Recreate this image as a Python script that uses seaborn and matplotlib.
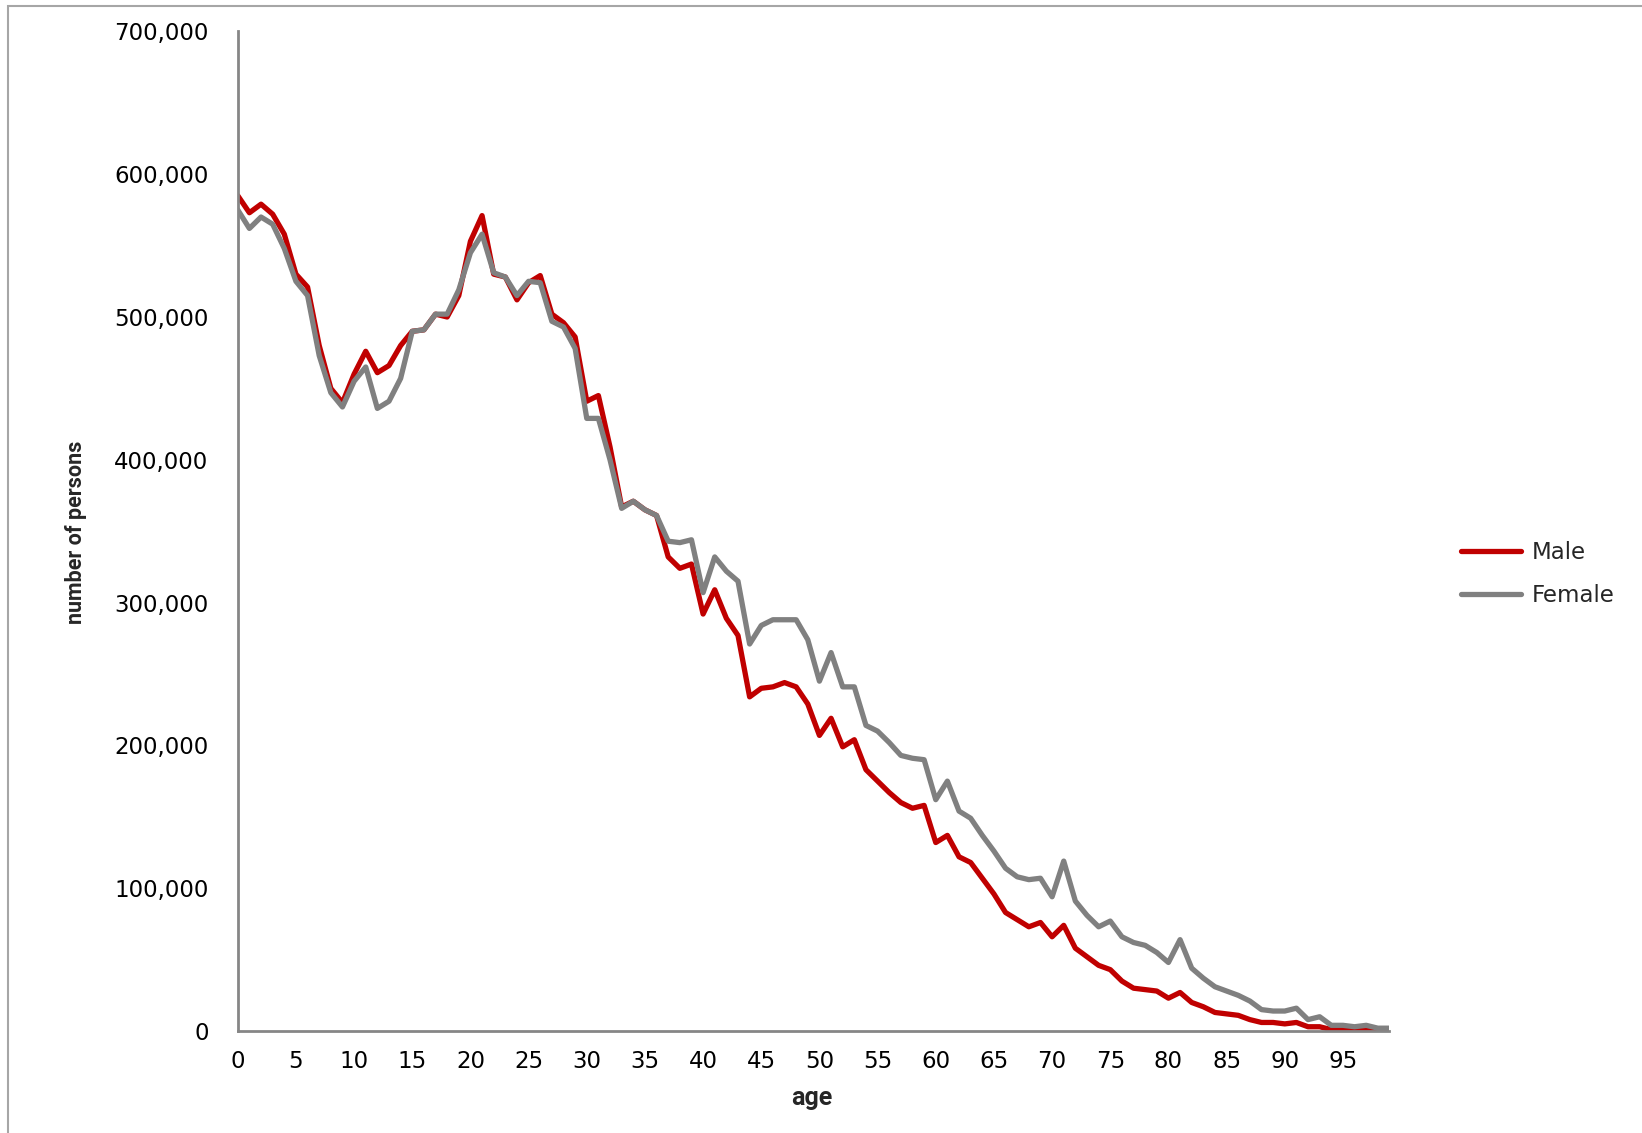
import pandas as pd
import matplotlib.pyplot as plt
import matplotlib.ticker as mticker
from matplotlib.patches import Rectangle
import seaborn as sns

# edades 0..99
ages = list(range(100))

male = [585, 573, 579, 572, 558, 530, 521, 480, 450, 440,
        460, 476, 461, 466, 480, 490, 491, 502, 500, 515,
        553, 571, 530, 528, 512, 524, 529, 502, 496, 486,
        441, 445, 409, 367, 371, 365, 361, 332, 324, 327,
        292, 309, 289, 277, 234, 240, 241, 244, 241, 229,
        207, 219, 199, 204, 183, 175, 167, 160, 156, 158,
        132, 137, 122, 118, 107, 96, 83, 78, 73, 76,
        66, 74, 58, 52, 46, 43, 35, 30, 29, 28,
        23, 27, 20, 17, 13, 12, 11, 8, 6, 6,
        5, 6, 3, 3, 1, 1, 1, 0.5, 0, 0]

female = [575, 562, 570, 565, 548, 525, 515, 473, 447, 437,
          455, 465, 436, 441, 457, 490, 491, 502, 502, 519,
          545, 558, 531, 528, 515, 525, 524, 497, 493, 478,
          429, 429, 400, 366, 371, 365, 361, 343, 342, 344,
          307, 332, 322, 315, 271, 284, 288, 288, 288, 274,
          245, 265, 241, 241, 214, 210, 202, 193, 191, 190,
          162, 175, 154, 149, 137, 126, 114, 108, 106, 107,
          94, 119, 91, 81, 73, 77, 66, 62, 60, 55,
          48, 64, 44, 37, 31, 28, 25, 21, 15, 14,
          14, 16, 8, 10, 4, 4, 3, 4, 2, 2]

sexes = ['Male', 'Female']
colors = {'Male': '#C00000', 'Female': '#808080'}

df = pd.concat([
    pd.DataFrame({'age': ages, 'persons': [v * 1000 for v in male], 'sex': 'Male'}),
    pd.DataFrame({'age': ages, 'persons': [v * 1000 for v in female], 'sex': 'Female'}),
])

sns.set_style('white')
plt.rcParams['font.family'] = ['DejaVu Sans']

fig = plt.figure(figsize=(16.42, 11.33), dpi=100)
ax = fig.add_axes([0.1448, 0.09, 0.8462 - 0.1448, 0.9723 - 0.09])

sns.lineplot(data=df, x='age', y='persons', hue='sex', hue_order=sexes,
             palette=colors, linewidth=3.8, ax=ax, legend=True)
for ln in ax.get_lines():
    ln.set_solid_joinstyle('round')
    ln.set_solid_capstyle('round')

ax.set_xlim(0, 99)
ax.set_ylim(0, 700000)
ax.set_xticks(range(0, 100, 5))
ax.set_yticks(range(0, 700001, 100000))
ax.yaxis.set_major_formatter(mticker.FuncFormatter(lambda v, p: f'{int(v):,}'))

for side in ['top', 'right']:
    ax.spines[side].set_visible(False)
for side in ['left', 'bottom']:
    ax.spines[side].set_color('#868686')
    ax.spines[side].set_linewidth(2)
ax.tick_params(axis='both', colors='#868686', length=7, width=2, direction='out',
               labelcolor='black', labelsize=16.5)
ax.tick_params(axis='x', pad=7)
ax.tick_params(axis='y', pad=14)
ax.grid(False)

ax.set_xlabel('')
ax.set_ylabel('')
fig.text(0.0465, 0.53, 'number of persons', rotation=90, ha='center', va='center',
         fontsize=15.5, fontweight='bold', family=['Roboto', 'DejaVu Sans'])
fig.text(0.4945, 0.031, 'age', ha='center', va='center',
         fontsize=18, fontweight='bold', family=['Roboto', 'DejaVu Sans'])

handles, labels = ax.get_legend_handles_labels()
ax.legend(handles, labels, loc='center left', bbox_to_anchor=(0.8775, 0.4935),
          bbox_transform=fig.transFigure, frameon=False, fontsize=16.5,
          handlelength=2.6, handletextpad=0.45, labelspacing=0.85)

# borde gris del área del gráfico
fig.patches.append(Rectangle((8.4 / 1642, -0.05), 1.2, 1.05 - 6.3 / 1133,
                             transform=fig.transFigure, fill=False,
                             edgecolor='#A6A6A6', linewidth=1.5))

plt.savefig('out.png', dpi=100)
